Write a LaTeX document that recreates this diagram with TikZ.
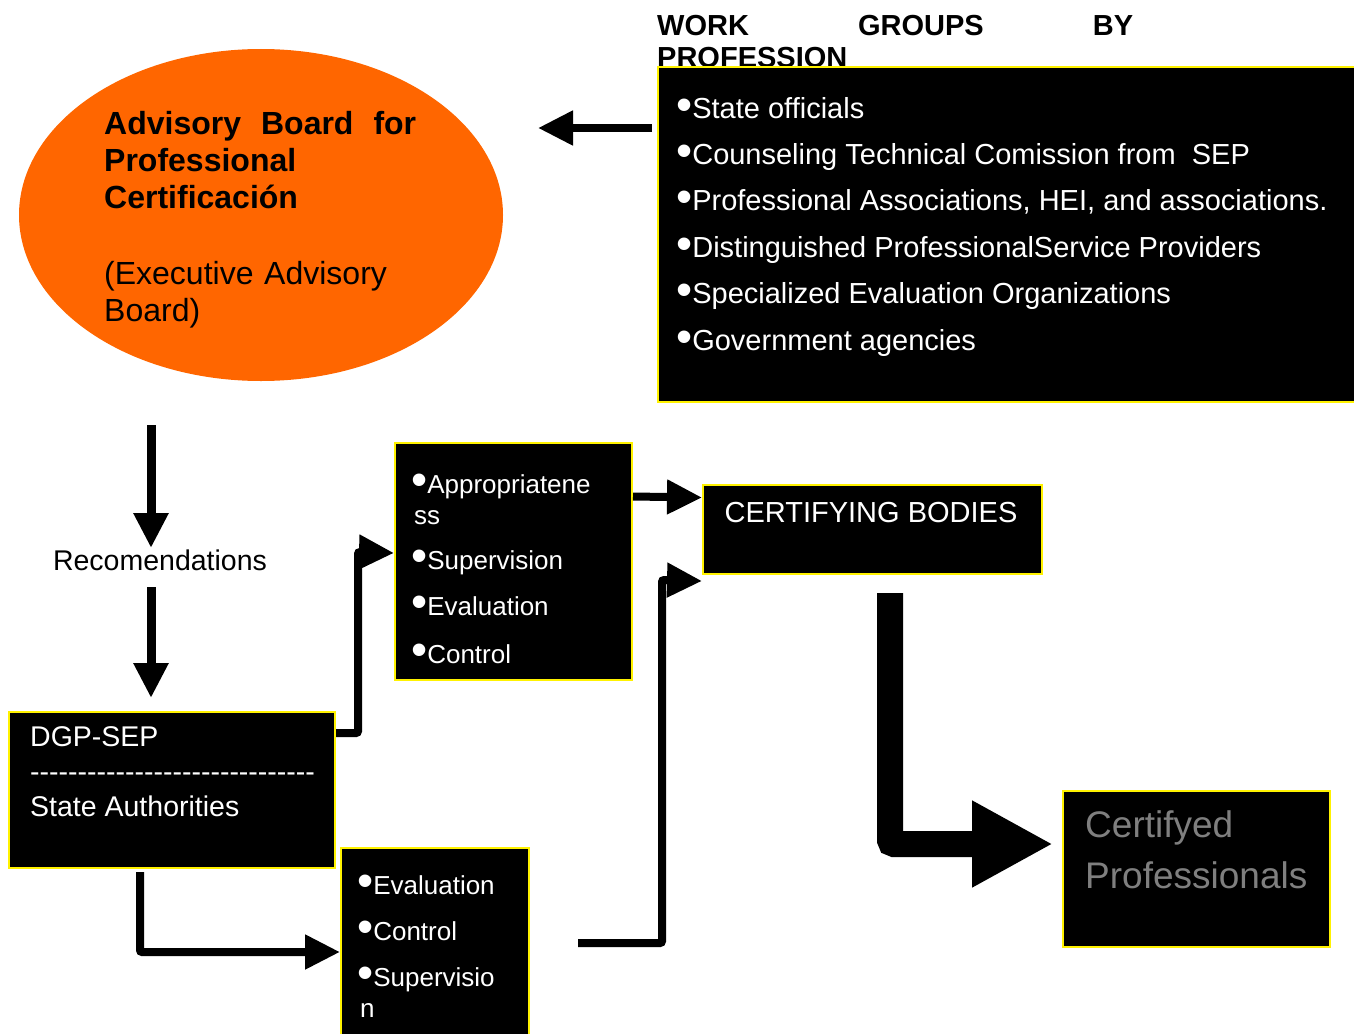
\documentclass[tikz,border=0pt]{standalone}
\usepackage{fontspec}
\setmainfont{Liberation Sans}
\usetikzlibrary{arrows.meta,shapes.geometric}
\definecolor{boardorange}{HTML}{FF6600}
\definecolor{profgray}{HTML}{7F7F7F}
\newcommand{\bul}{\raisebox{-2pt}{\fontsize{46}{46}\selectfont\textbullet}}
\newcommand{\dashrow}{\foreach \k in {1,...,30}{-\kern0pt}}
\begin{document}
\begin{tikzpicture}[x=1pt,y=-1pt,line cap=butt,
	blackbox/.style={draw=yellow,fill=black,line width=2pt,anchor=north west,inner sep=0pt},
	boxtext/.style={text=white,anchor=base west,align=left,inner sep=0pt},
	conn/.style={line width=8pt,rounded corners=2pt,-{Triangle[length=35pt,width=33pt]}}]
	\useasboundingbox (0,0) rectangle (1354,1033);
	\clip (0,0) rectangle (1354,1033);
	% advisory board
	\node[ellipse,fill=boardorange,minimum width=484pt,minimum height=332pt,inner sep=0pt] (board) at (261,215) {};
	\node[boxtext,text=black,text width=312pt,font=\fontsize{32}{37}\selectfont] (boardtext) at (104,134)
		{\bfseries Advisory\hfill Board\hfill for\\Professional\\Certificación\\[39pt]\mdseries(Executive Advisory\\Board)};
	% work groups
	\node[boxtext,text=black,text width=476pt,font=\bfseries\fontsize{29}{32}\selectfont] (wgtitle) at (657,36) {WORK\hfill GROUPS\hfill BY\\PROFESSION};
	\node[blackbox,minimum width=708pt,minimum height=335pt] (wgbox) at (657,66) {};
	\node[boxtext,font=\fontsize{29}{46.4}\selectfont] (wglist) at (676,350)
		{\bul State officials\\\bul Counseling Technical Comission from\ \ SEP\\\bul Professional Associations, HEI, and associations.\\\bul Distinguished ProfessionalService Providers\\\bul Specialized Evaluation Organizations\\\bul Government agencies};
	% middle boxes
	\node[blackbox,minimum width=237pt,minimum height=237pt] (app) at (394,442) {};
	\node[boxtext,font=\fontsize{26}{31}\selectfont] (applist) at (411,663)
		{\bul Appropriatene\\\hspace*{3pt}ss\\[14pt]\bul Supervision\\[15pt]\bul Evaluation\\[17pt]\bul Control};
	\node[blackbox,minimum width=339pt,minimum height=89pt] (cert) at (702,484) {};
	\node[text=white,anchor=base,inner sep=0pt,font=\fontsize{29}{32}\selectfont] (certtext) at (871,522) {CERTIFYING BODIES};
	\node[font=\fontsize{28.5}{32}\selectfont,inner sep=0pt] (rec) at (160,560) {Recomendations};
	\node[blackbox,minimum width=326pt,minimum height=156pt] (dgp) at (8,711) {};
	\node[boxtext,font=\fontsize{28.5}{35}\selectfont] (dgptext) at (30,816) {DGP-SEP\\\dashrow\\State Authorities};
	\node[blackbox,minimum width=188pt,minimum height=208pt] (evalbox) at (340,847) {};
	\node[boxtext,font=\fontsize{26}{31}\selectfont] (evallist) at (357,1017)
		{\bul Evaluation\\[15pt]\bul Control\\[15pt]\bul Supervisio\\\hspace*{3pt}n};
	\node[blackbox,minimum width=267pt,minimum height=156pt] (prof) at (1062,790) {};
	\node[boxtext,text=profgray,font=\fontsize{37}{51}\selectfont] (proftext) at (1085,888) {Certifyed\\Professionals};
	% connectors
	\coordinate (wgout) at (652,128);
	\coordinate (boardin) at (538,128);
	\coordinate (down1) at (151,425);
	\coordinate (down1end) at (151,548);
	\coordinate (down2) at (151,587);
	\coordinate (down2end) at (151,698);
	\coordinate (appbend) at (358,552);
	\coordinate (dgpout) at (140,872);
	\coordinate (evout) at (578,943);
	\coordinate (certbend) at (662,580);
	\coordinate (bigstart) at (890,593);
	\coordinate (bigend) at (1053,844);
	\draw[conn] (wgout) -- (boardin);
	\draw[conn,line width=9pt] (down1) -- (down1end);
	\draw[conn,line width=9pt] (down2) -- (down2end);
	\draw[conn] ([yshift=-22pt]dgp.north east) -| (appbend) -- ([yshift=8.5pt]app.west);
	\draw[conn] ([yshift=65pt]app.east) -- ([yshift=32pt]cert.west);
	\draw[conn] (evout) -| (certbend) -- ([yshift=-51.5pt]cert.west);
	\draw[conn] (dgpout) |- (evalbox.west);
	\draw[line width=26pt,rounded corners=4pt,-{Triangle[length=81pt,width=81pt]}] (bigstart) |- (bigend);
\end{tikzpicture}
\end{document}
